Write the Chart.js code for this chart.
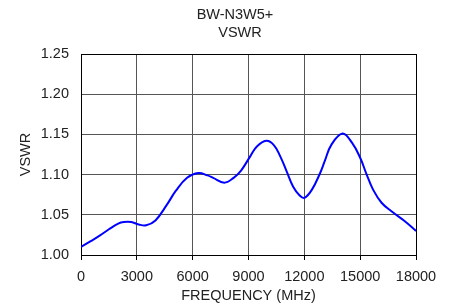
<!DOCTYPE html>
<html><head><meta charset="utf-8">
<script src="https://cdn.jsdelivr.net/npm/chart.js@4"></script>
<style>html,body{margin:0;padding:0;background:#fff}#wrap{width:453px;height:306px}</style>
</head><body><div id="wrap"><canvas id="c" width="453" height="306"></canvas></div>
<script>
const titleLines = ['BW-N3W5+', 'VSWR'];
const xTitle = 'FREQUENCY (MHz)';
const yTitle = 'VSWR';
const freqMHz = [0,500,1000,1500,2000,2300,2700,3100,3500,4000,4600,5100,5700,6300,6800,7100,7700,8200,8600,9100,9450,9950,10350,10700,11050,11400,11750,12000,12400,12850,13100,13450,14050,14550,15000,15350,15700,16150,16700,17400,18000];
const vswr = [1.010,1.017,1.024,1.032,1.039,1.041,1.041,1.038,1.037,1.043,1.062,1.080,1.096,1.102,1.099,1.096,1.090,1.096,1.105,1.123,1.135,1.142,1.137,1.123,1.104,1.085,1.074,1.071,1.081,1.102,1.117,1.137,1.151,1.140,1.121,1.100,1.081,1.065,1.054,1.042,1.030];
const xTicks = [0,3000,6000,9000,12000,15000,18000];
const yTicks = [1.00,1.05,1.10,1.15,1.20,1.25];

const FONT = "'Liberation Sans', Arial, sans-serif";
const titlePlugin = {
  id: 'titleLines',
  afterDraw(chart) {
    const ctx = chart.ctx;
    ctx.save();
    ctx.fillStyle = '#222';
    ctx.font = '14.5px ' + FONT;
    ctx.textAlign = 'center';
    ctx.textBaseline = 'middle';
    ctx.fillText(titleLines[0], 235, 15);
    ctx.fillText(titleLines[1], 240, 33);
    ctx.restore();
  }
};

new Chart(document.getElementById('c'), {
  type: 'line',
  data: {
    datasets: [{
      data: freqMHz.map((f, i) => ({x: f, y: vswr[i]})),
      borderColor: '#0000ff',
      borderWidth: 2,
      pointRadius: 0,
      tension: 0.4,
      fill: false
    }]
  },
  options: {
    responsive: false,
    animation: false,
    devicePixelRatio: 1,
    layout: {padding: {left: 0, right: 37, top: 54, bottom: 0}},
    plugins: {legend: {display: false}, tooltip: {enabled: false}},
    scales: {
      x: {
        type: 'linear', min: 0, max: 18000,
        afterBuildTicks(s) { s.ticks = xTicks.map(v => ({value: v})); },
        afterFit(s) { s.height = 51; },
        ticks: {color: '#222', font: {size: 14.5, family: FONT}, padding: 8, maxRotation: 0, autoSkip: false, callback: v => String(v)},
        grid: {color: (c) => (c.index === xTicks.length - 1 ? '#000' : '#555'), lineWidth: 1, drawTicks: true, tickLength: 5, tickColor: '#000'},
        border: {color: '#000', width: 1},
        title: {display: true, text: xTitle, color: '#222', font: {size: 14.5, family: FONT}, padding: {top: 0, bottom: 1}}
      },
      y: {
        type: 'linear', min: 1.0, max: 1.25,
        afterBuildTicks(s) { s.ticks = yTicks.map(v => ({value: v})); },
        afterFit(s) { s.width = 81; },
        ticks: {color: '#222', font: {size: 14.5, family: FONT}, padding: 12, callback: v => Number(v).toFixed(2)},
        grid: {color: (c) => (c.index === yTicks.length - 1 ? '#000' : '#555'), lineWidth: 1, drawTicks: false},
        border: {color: '#000', width: 1},
        title: {display: true, text: yTitle, color: '#222', font: {size: 14.5, family: FONT}, padding: {top: 17, bottom: 0}}
      }
    }
  },
  plugins: [titlePlugin]
});
</script></body></html>
